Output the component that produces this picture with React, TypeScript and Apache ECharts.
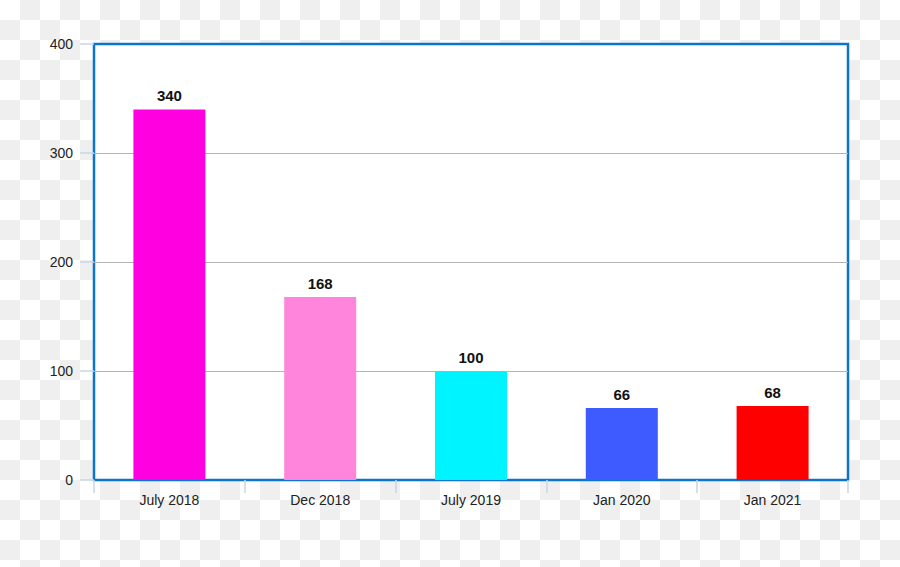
import React, { useEffect, useRef } from "react";
import * as echarts from "echarts";

const categories = ["July 2018", "Dec 2018", "July 2019", "Jan 2020", "Jan 2021"];
const values = [340, 168, 100, 66, 68];
const barColors = ["#ff00e1", "#ff85dc", "#00f4ff", "#3d5bff", "#ff0000"];

export default function App() {
  const ref = useRef<HTMLDivElement>(null);
  useEffect(() => {
    if (!ref.current) return;
    const chart = echarts.init(ref.current, undefined, { renderer: "svg" });
    chart.setOption({
      animation: false,
      grid: {
        left: 94,
        right: 52,
        top: 44,
        bottom: 87,
        show: true,
        backgroundColor: "#ffffff",
        borderColor: "#0b74d0",
        borderWidth: 2.5,
        z: 0,
      },
      xAxis: {
        type: "category",
        data: categories,
        axisLine: { show: false },
        axisTick: { show: true, length: 13, lineStyle: { color: "#c8d6e6", width: 1.5 } },
        axisLabel: {
          color: "#222",
          fontSize: 14,
          fontFamily: "Liberation Sans, Arial, sans-serif",
          margin: 13,
        },
      },
      yAxis: {
        type: "value",
        min: 0,
        max: 400,
        interval: 100,
        axisLine: { show: false },
        axisTick: { show: true, length: 14, lineStyle: { color: "#c8d6e6", width: 1.5 } },
        axisLabel: {
          color: "#222",
          fontSize: 14,
          fontFamily: "Liberation Sans, Arial, sans-serif",
          margin: 21,
        },
        splitLine: {
          show: true,
          showMinLine: false,
          showMaxLine: false,
          lineStyle: { color: "#b4b4b4", width: 1 },
        },
      },
      series: [
        {
          type: "bar",
          barWidth: 72,
          data: values.map((v, i) => ({ value: v, itemStyle: { color: barColors[i] } })),
          label: {
            show: true,
            position: "top",
            distance: 6,
            color: "#111",
            fontSize: 15,
            fontWeight: "bold",
            fontFamily: "Liberation Sans, Arial, sans-serif",
          },
        },
      ],
    });
    return () => chart.dispose();
  }, []);
  return (
    <div
      style={{
        position: "absolute",
        left: 0,
        top: 0,
        width: 900,
        height: 567,
        background: "repeating-conic-gradient(#efefef 0 25%, #ffffff 0 50%) 0 0 / 40px 40px",
      }}
    >
      <div ref={ref} style={{ width: 900, height: 567 }} />
    </div>
  );
}
